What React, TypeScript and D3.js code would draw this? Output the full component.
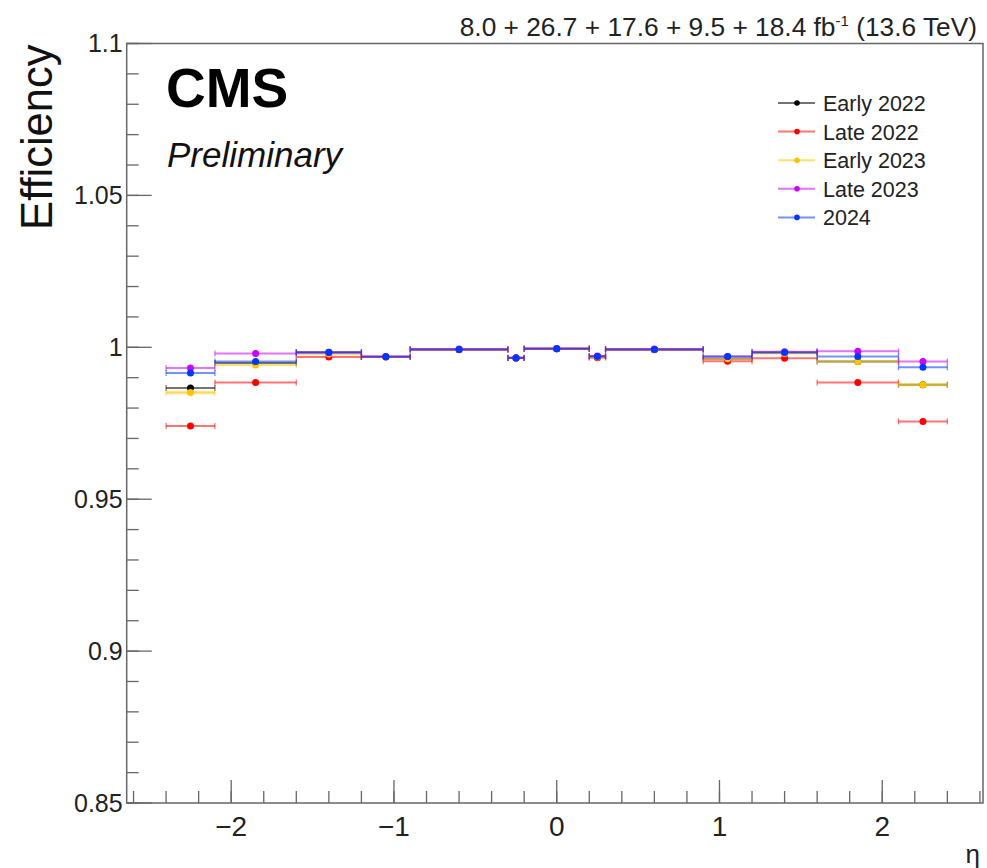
import React from "react";
import * as d3 from "d3";

const binEdges = [-2.4, -2.1, -1.6, -1.2, -0.9, -0.3, -0.2, 0.2, 0.3, 0.9, 1.2, 1.6, 2.1, 2.4];
const binCenters = [-2.25, -1.85, -1.4, -1.05, -0.6, -0.25, 0, 0.25, 0.6, 1.05, 1.4, 1.85, 2.25];

const seriesNames = ["Early 2022", "Late 2022", "Early 2023", "Late 2023", "2024"];
const seriesColors = ["#000000", "#ff0000", "#ffc400", "#cc00ff", "#0036ff"];

const early2022 = [0.9866, 0.9948, 0.9984, 0.9969, 0.9993, 0.9965, 0.9995, 0.997, 0.9993, 0.9962, 0.9983, 0.9953, 0.9877];
const late2022 = [0.9741, 0.9884, 0.9968, 0.9968, 0.9992, 0.9965, 0.9995, 0.9966, 0.9992, 0.9954, 0.9964, 0.9884, 0.9756];
const early2023 = [0.9851, 0.9942, 0.9978, 0.9968, 0.9993, 0.9966, 0.9995, 0.9968, 0.9993, 0.9962, 0.998, 0.9953, 0.9877];
const late2023 = [0.9932, 0.998, 0.9983, 0.997, 0.9994, 0.9966, 0.9996, 0.9971, 0.9994, 0.997, 0.9985, 0.9987, 0.9953];
const y2024 = [0.9915, 0.9953, 0.9983, 0.9969, 0.9993, 0.9965, 0.9995, 0.997, 0.9993, 0.997, 0.9983, 0.997, 0.9934];

const errEarly2022 = [0.0004, 0.0002, 0.0001, 0.0001, 0.0001, 0.0001, 0.0001, 0.0001, 0.0001, 0.0001, 0.0001, 0.0002, 0.0004];
const errLate2022 = [0.0003, 0.0001, 0.0001, 0.0001, 0.0001, 0.0001, 0.0001, 0.0001, 0.0001, 0.0001, 0.0001, 0.0001, 0.0003];
const errEarly2023 = [0.0006, 0.0003, 0.0002, 0.0002, 0.0001, 0.0002, 0.0001, 0.0002, 0.0001, 0.0002, 0.0002, 0.0003, 0.0005];
const errLate2023 = [0.0003, 0.0001, 0.0001, 0.0001, 0.0001, 0.0001, 0.0001, 0.0001, 0.0001, 0.0001, 0.0001, 0.0001, 0.0003];
const err2024 = [0.0002, 0.0001, 0.0001, 0.0001, 0.0001, 0.0001, 0.0001, 0.0001, 0.0001, 0.0001, 0.0001, 0.0001, 0.0002];

const seriesValues = [early2022, late2022, early2023, late2023, y2024];
const seriesErrors = [errEarly2022, errLate2022, errEarly2023, errLate2023, err2024];

const xMajorTicks = [-2, -1, 0, 1, 2];
const yMajorTicks = [0.85, 0.9, 0.95, 1, 1.05, 1.1];
const yTickLabels = ["0.85", "0.9", "0.95", "1", "1.05", "1.1"];

const W = 987;
const H = 868;
const left = 126.7;
const right = 983;
const top = 43.5;
const bottom = 803;

export default function App() {
  const x = d3.scaleLinear().domain([-2.642, 2.619]).range([left, right]);
  const y = d3.scaleLinear().domain([0.85, 1.1]).range([bottom, top]);
  const font = "'Liberation Sans', Arial, Helvetica, sans-serif";
  const axisColor = "#666";

  const xMinor = d3.range(-2.6, 2.61, 0.2).map((v) => Math.round(v * 10) / 10);
  const yMinor = d3.range(0.85, 1.1001, 0.01).map((v) => Math.round(v * 100) / 100);

  const legendX = 778;
  const legendY0 = 103;
  const legendDy = 28.6;

  return (
    <svg
      width={W}
      height={H}
      style={{ position: "absolute", left: 0, top: 0, background: "#fff" }}
      fontFamily={font}
    >
      <rect x={0} y={0} width={W} height={H} fill="#fff" />
      {/* frame */}
      <rect x={left} y={top} width={right - left} height={bottom - top} fill="none" stroke={axisColor} strokeWidth={1.5} />
      {/* y ticks */}
      {yMinor.map((v, i) => (
        <line key={"ym" + i} x1={left} x2={left + 12} y1={y(v)} y2={y(v)} stroke={axisColor} strokeWidth={1.3} />
      ))}
      {yMajorTicks.map((v, i) => (
        <g key={"yM" + i}>
          <line x1={left} x2={left + 25} y1={y(v)} y2={y(v)} stroke={axisColor} strokeWidth={1.3} />
          <text x={left - 4} y={y(v) + 8.5} textAnchor="end" fontSize={25} fill="#222">
            {yTickLabels[i]}
          </text>
        </g>
      ))}
      {/* x ticks */}
      {xMinor.map((v, i) => (
        <line key={"xm" + i} x1={x(v)} x2={x(v)} y1={bottom} y2={bottom - 12} stroke={axisColor} strokeWidth={1.3} />
      ))}
      {xMajorTicks.map((v, i) => (
        <g key={"xM" + i}>
          <line x1={x(v)} x2={x(v)} y1={bottom} y2={bottom - 23} stroke={axisColor} strokeWidth={1.3} />
          <text x={x(v)} y={836} textAnchor="middle" fontSize={28} fill="#222">
            {v < 0 ? "\u2212" + Math.abs(v) : String(v)}
          </text>
        </g>
      ))}
      {/* axis titles */}
      <text x={980} y={863} textAnchor="end" fontSize={26} fill="#222">η</text>
      <text
        transform={`translate(52, ${top + 1}) rotate(-90)`}
        textAnchor="end"
        fontSize={43.5}
        fill="#111"
      >
        Efficiency
      </text>
      {/* top label */}
      <text x={977} y={36} textAnchor="end" fontSize={26.3} fill="#222">
        8.0 + 26.7 + 17.6 + 9.5 + 18.4 fb
        <tspan dy={-10} fontSize={15}>-1</tspan>
        <tspan dy={10}> (13.6 TeV)</tspan>
      </text>
      {/* CMS */}
      <text x={166} y={107} fontSize={55} fontWeight="bold" fill="#000">CMS</text>
      <text x={167} y={167} fontSize={35} fontStyle="italic" fill="#111">Preliminary</text>

      {/* data */}
      {seriesValues.map((vals, s) => (
        <g key={"s" + s}>
          {vals.map((v, i) => {
            const x0 = x(binEdges[i]);
            const x1 = x(binEdges[i + 1]);
            const cy = y(v);
            const e = seriesErrors[s][i];
            return (
              <g key={i}>
                {e * 3030 > 1.5 && (
                  <rect
                    x={x0}
                    width={x1 - x0}
                    y={y(v + e)}
                    height={y(v - e) - y(v + e)}
                    fill={seriesColors[s]}
                    opacity={0.3}
                  />
                )}
                <line x1={x0} x2={x1} y1={cy} y2={cy} stroke={seriesColors[s]} strokeWidth={2} strokeOpacity={0.55} />
                <line x1={x0} x2={x0} y1={cy - 3} y2={cy + 3} stroke={seriesColors[s]} strokeWidth={1.3} strokeOpacity={0.55} />
                <line x1={x1} x2={x1} y1={cy - 3} y2={cy + 3} stroke={seriesColors[s]} strokeWidth={1.3} strokeOpacity={0.55} />
                <circle cx={x(binCenters[i])} cy={cy} r={3.5} fill={seriesColors[s]} />
              </g>
            );
          })}
        </g>
      ))}

      {/* legend */}
      {seriesNames.map((name, i) => {
        const ly = legendY0 + i * legendDy;
        return (
          <g key={"l" + i}>
            <line x1={legendX} x2={legendX + 37} y1={ly} y2={ly} stroke={seriesColors[i]} strokeWidth={2} strokeOpacity={0.55} />
            <circle cx={legendX + 19} cy={ly} r={2.8} fill={seriesColors[i]} />
            <text x={legendX + 45} y={ly + 8} fontSize={21.5} fill="#222">{name}</text>
          </g>
        );
      })}
    </svg>
  );
}
